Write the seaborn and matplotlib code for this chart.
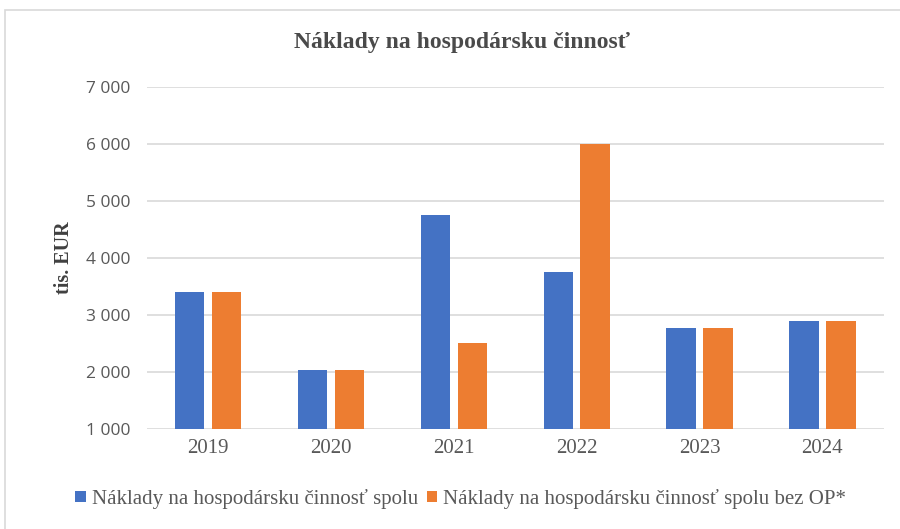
import pandas as pd
import matplotlib.pyplot as plt
import seaborn as sns
from matplotlib.patches import Rectangle
from matplotlib.ticker import FuncFormatter

sns.set_theme(style="white")

# Dáta
roky = ['2019', '2020', '2021', '2022', '2023', '2024']
spolu = [3400, 2040, 4750, 3750, 2770, 2900]
bez_op = [3400, 2040, 2500, 6000, 2770, 2900]
serie = ['Náklady na hospodársku činnosť spolu',
         'Náklady na hospodársku činnosť spolu bez OP*']

df = pd.DataFrame({
    'Rok': roky * 2,
    'Hodnota': spolu + bez_op,
    'Séria': [serie[0]] * len(roky) + [serie[1]] * len(roky),
})

serif = ['Liberation Serif', 'DejaVu Serif']
sans = ['Open Sans', 'DejaVu Sans']

fig = plt.figure(figsize=(9, 5.29), dpi=100)
ax = fig.add_axes([0.163, 0.189, 0.819, 0.647])

sns.barplot(data=df, x='Rok', y='Hodnota', hue='Séria', ax=ax,
            palette=['#4472C4', '#ED7D31'], width=0.6, gap=0.2,
            saturation=1, linewidth=0)

ax.set_ylim(1000, 7000)
ax.set_yticks(range(1000, 7001, 1000))
ax.yaxis.set_major_formatter(FuncFormatter(lambda v, p: f'{int(v):,}'.replace(',', ' ')))
ax.grid(axis='y', color='#D9D9D9', linewidth=1.2)
ax.set_axisbelow(True)
for s in ax.spines.values():
    s.set_visible(False)
ax.tick_params(axis='x', length=0, pad=7)
ax.tick_params(axis='y', length=0, pad=12)
for lab in ax.get_yticklabels():
    lab.set_fontfamily(sans)
    lab.set_fontsize(12.5)
    lab.set_color('#595959')
for lab in ax.get_xticklabels():
    lab.set_fontfamily(serif)
    lab.set_fontsize(15)
    lab.set_color('#595959')

ax.set_xlabel('')
ax.set_ylabel('tis. EUR', fontfamily=serif, fontweight='bold', fontsize=14.5,
              color='#404040', labelpad=8)

fig.text(0.513, 0.92, 'Náklady na hospodársku činnosť', ha='center', va='center',
         fontfamily=serif, fontweight='bold', fontsize=17, color='#4a4a4a')

h, l = ax.get_legend_handles_labels()
ax.legend_.remove()
leg = fig.legend(h, l, loc='center', bbox_to_anchor=(0.512, 0.057), ncol=2,
                 frameon=False, handlelength=0.5, handleheight=0.5,
                 handletextpad=0.3, columnspacing=0.4,
                 prop={'family': serif, 'size': 15})
for t in leg.get_texts():
    t.set_color('#595959')

fig.patches.append(Rectangle((0.006, -0.01), 1.1, 0.992, transform=fig.transFigure,
                             fill=False, edgecolor='#D9D9D9', linewidth=1.2))

fig.savefig('out.png', dpi=100)
